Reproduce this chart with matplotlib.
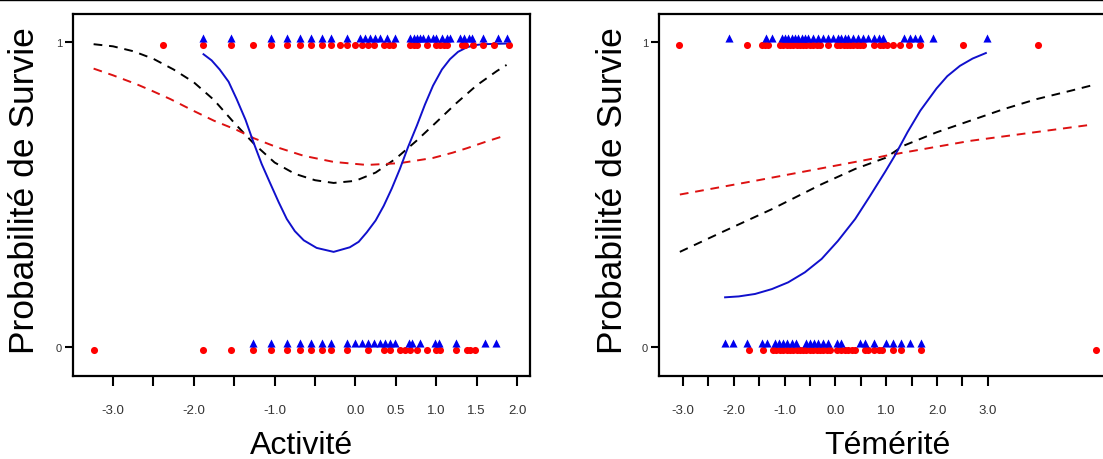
import numpy as np
import matplotlib
matplotlib.use("Agg")
import matplotlib.pyplot as plt

plt.rcParams['font.family'] = ['Liberation Sans', 'DejaVu Sans']

#DATA PANEL 1 (ACTIVITE)
act_red_1 = [-2.38, -1.89, -1.54, -1.27, -1.04, -0.85, -0.69, -0.55, -0.41, -0.30, -0.19, -0.10,
             0.0, 0.08, 0.15, 0.23, 0.35, 0.41, 0.47, 0.67, 0.72, 0.76, 0.89, 1.0, 1.05, 1.09,
             1.13, 1.32, 1.36, 1.46, 1.58, 1.71, 1.90]
act_blue_1 = [-1.89, -1.54, -1.04, -0.85, -0.69, -0.55, -0.41, -0.30, -0.11, 0.06, 0.12, 0.18,
              0.24, 0.30, 0.39, 0.49, 0.68, 0.72, 0.76, 0.80, 0.84, 0.90, 0.96, 1.0, 1.07, 1.13,
              1.17, 1.29, 1.34, 1.40, 1.44, 1.58, 1.77, 1.87]
act_red_0 = [-3.24, -1.89, -1.54, -1.27, -1.04, -0.85, -0.69, -0.55, -0.41, -0.30, -0.11, 0.16,
             0.35, 0.43, 0.55, 0.61, 0.68, 0.76, 0.89, 1.0, 1.05, 1.25, 1.38, 1.42, 1.48]
act_blue_0 = [-1.27, -1.04, -0.85, -0.69, -0.55, -0.41, -0.30, -0.11, 0.0, 0.08, 0.16, 0.23,
              0.30, 0.37, 0.43, 0.49, 0.66, 0.70, 0.80, 0.99, 1.03, 1.25, 1.60, 1.74]

#COURBES PANEL 1
act_black_x = [-3.24, -3.0, -2.75, -2.5, -2.25, -2.0, -1.75, -1.5, -1.25, -1.0, -0.75, -0.5,
               -0.27, 0.0, 0.25, 0.5, 0.75, 1.0, 1.25, 1.5, 1.75, 1.87]
act_black_y = [0.993, 0.986, 0.97, 0.945, 0.91, 0.868, 0.81, 0.735, 0.665, 0.605, 0.568, 0.547,
               0.538, 0.545, 0.572, 0.618, 0.675, 0.737, 0.80, 0.858, 0.905, 0.925]
act_red_x = [-3.24, -3.0, -2.71, -2.5, -2.29, -2.0, -1.75, -1.47, -1.26, -0.97, -0.64, -0.27,
             0.14, 0.55, 0.96, 1.2, 1.38, 1.6, 1.87]
act_red_y = [0.913, 0.891, 0.862, 0.838, 0.813, 0.774, 0.742, 0.712, 0.685, 0.655, 0.627, 0.607,
             0.597, 0.603, 0.62, 0.637, 0.652, 0.672, 0.695]
act_blue_x = [-1.88, -1.78, -1.68, -1.57, -1.47, -1.36, -1.26, -1.16, -1.06, -0.95, -0.85, -0.75,
              -0.64, -0.48, -0.27, -0.07, 0.04, 0.14, 0.25, 0.35, 0.45, 0.55, 0.65, 0.76, 0.86,
              0.96, 1.07, 1.17, 1.27, 1.38, 1.48, 1.58, 1.87]
act_blue_y = [0.96, 0.94, 0.91, 0.87, 0.813, 0.745, 0.67, 0.60, 0.54, 0.475, 0.42, 0.38,
              0.35, 0.325, 0.312, 0.327, 0.345, 0.376, 0.415, 0.463, 0.52, 0.584, 0.655, 0.726,
              0.795, 0.857, 0.91, 0.944, 0.968, 0.983, 0.99, 0.993, 0.995]

#DATA PANEL 2 (TEMERITE)
tem_red_1 = [-3.08, -1.73, -1.45, -1.39, -1.32, -1.09, -1.03, -0.96, -0.89, -0.83, -0.76, -0.70,
             -0.63, -0.57, -0.50, -0.44, -0.37, -0.30, -0.14, 0.03, 0.09, 0.16, 0.22, 0.29, 0.35,
             0.42, 0.48, 0.55, 0.75, 0.88, 0.94, 1.01, 1.14, 1.27, 1.44, 1.67, 2.52, 3.98]
tem_blue_1 = [-2.09, -1.37, -1.24, -1.06, -0.99, -0.93, -0.86, -0.80, -0.73, -0.66, -0.60, -0.53,
              -0.44, -0.34, -0.24, -0.14, -0.04, 0.06, 0.12, 0.19, 0.25, 0.35, 0.45, 0.55, 0.65,
              0.75, 0.85, 0.94, 1.34, 1.47, 1.57, 1.67, 1.92, 2.98]
tem_red_0 = [-1.70, -1.43, -1.22, -1.16, -1.09, -1.03, -0.96, -0.89, -0.83, -0.76, -0.70, -0.63,
             -0.57, -0.50, -0.44, -0.37, -0.30, -0.24, -0.17, -0.11, 0.03, 0.12, 0.19, 0.25, 0.32,
             0.38, 0.58, 0.65, 0.75, 0.85, 0.91, 1.14, 1.29, 1.69, 5.13]
tem_blue_0 = [-2.17, -2.01, -1.73, -1.45, -1.35, -1.19, -1.10, -1.03, -0.95, -0.86, -0.78, -0.58,
              -0.50, -0.42, -0.34, -0.24, -0.14, 0.03, 0.12, 0.48, 0.58, 0.75, 1.0, 1.14, 1.30,
              1.47, 1.69]

#COURBES PANEL 2
tem_black_x = [-3.06, -2.24, -1.25, -0.27, 0.39, 0.98, 1.34, 1.99, 2.65, 3.31, 3.96, 4.62, 5.14]
tem_black_y = [0.312, 0.376, 0.452, 0.534, 0.584, 0.62, 0.66, 0.704, 0.742, 0.78, 0.813, 0.84, 0.862]
tem_red_x = [-3.06, -1.58, 0.68, 0.98, 2.65, 5.08]
tem_red_y = [0.50, 0.545, 0.616, 0.627, 0.676, 0.73]
tem_blue_x = [-2.17, -1.9, -1.58, -1.25, -0.93, -0.6, -0.27, 0.05, 0.39, 0.68, 0.98, 1.17, 1.42,
              1.67, 1.99, 2.2, 2.45, 2.7, 2.96]
tem_blue_y = [0.163, 0.166, 0.174, 0.19, 0.212, 0.245, 0.289, 0.348, 0.42, 0.495, 0.575, 0.628,
              0.705, 0.775, 0.848, 0.888, 0.922, 0.946, 0.964]

W, H = 1103, 460
fig = plt.figure(figsize=(W / 100, H / 100), dpi=100)
fig.add_artist(plt.Line2D([0, 1], [0.998, 0.998], color='black', lw=1))


def panel(left, xlim, ticks, labels, xlabel, ylab_x, pts, curves):
    ax = fig.add_axes([left / W, (H - 377) / H, 457 / W, 362 / H])
    red1, blue1, red0, blue0 = pts
    ax.scatter(red1, np.ones(len(red1)) - 0.01, s=26, color='red', marker='o', zorder=3, linewidths=0)
    ax.scatter(blue1, np.ones(len(blue1)) + 0.013, s=34, color='#0000ee', marker='^', zorder=3, linewidths=0)
    ax.scatter(red0, np.zeros(len(red0)) - 0.01, s=26, color='red', marker='o', zorder=3, linewidths=0)
    ax.scatter(blue0, np.zeros(len(blue0)) + 0.013, s=34, color='#0000ee', marker='^', zorder=3, linewidths=0)
    (bx, by), (rx, ry), (ux, uy) = curves
    ax.plot(bx, by, color='black', lw=1.4, ls=(0, (4.5, 3.5)))
    ax.plot(rx, ry, color='#dd1111', lw=1.4, ls=(0, (4.5, 3.5)))
    ax.plot(ux, uy, color='#1010cc', lw=1.4)
    ax.set_xlim(*xlim)
    ax.set_ylim(-0.095, 1.092)
    ax.set_xticks(ticks)
    ax.set_xticklabels(labels, fontsize=9.5, color='#333333')
    ax.set_yticks([0, 1])
    ax.set_yticklabels(['0', '1'], fontsize=8, color='#333333')
    ax.tick_params(axis='x', length=7, width=1.5, pad=13)
    ax.tick_params(axis='y', length=6, width=1.5, pad=2)
    for sp in ax.spines.values():
        sp.set_linewidth(1.6)
    ax.set_xlabel(xlabel, fontsize=23)
    ax.xaxis.set_label_coords(0.5, -0.148)
    ax.set_ylabel('Probabilité de Survie', fontsize=25.5)
    ax.yaxis.set_label_coords(ylab_x, 0.515)
    return ax


act_ticks = [-3.0, -2.5, -2.0, -1.5, -1.0, -0.5, 0.0, 0.5, 1.0, 1.5, 2.0]
act_labels = ['-3.0', '', '-2.0', '', '-1.0', '', '0.0', '0.5', '1.0', '1.5', '2.0']
tem_ticks = [-3.0, -2.5, -2.0, -1.5, -1.0, -0.5, 0.0, 0.5, 1.0, 1.5, 2.0, 2.5, 3.0]
tem_labels = ['-3.0', '', '-2.0', '', '-1.0', '', '0.0', '', '1.0', '', '2.0', '', '3.0']

panel(73, (-3.495, 2.16), act_ticks, act_labels, 'Activité', -0.07,
      (act_red_1, act_blue_1, act_red_0, act_blue_0),
      ((act_black_x, act_black_y), (act_red_x, act_red_y), (act_blue_x, act_blue_y)))
panel(659, (-3.47, 5.52), tem_ticks, tem_labels, 'Témérité', -0.065,
      (tem_red_1, tem_blue_1, tem_red_0, tem_blue_0),
      ((tem_black_x, tem_black_y), (tem_red_x, tem_red_y), (tem_blue_x, tem_blue_y)))

plt.savefig("out.png", dpi=100)
